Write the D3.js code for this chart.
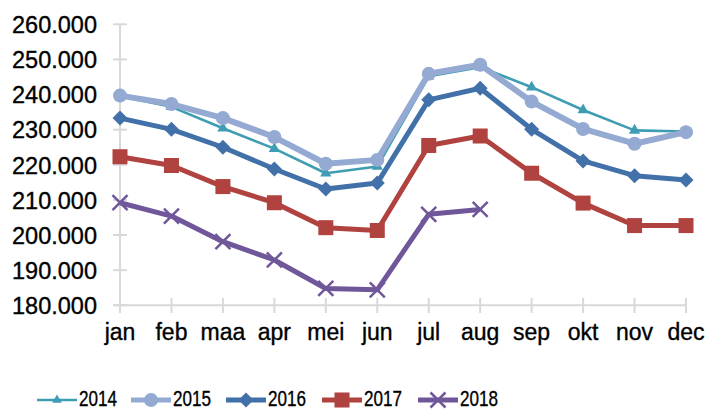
<!DOCTYPE html>
<html><head><meta charset="utf-8">
<script src="https://cdn.jsdelivr.net/npm/d3@7"></script>
<style>body{margin:0;background:#fff}svg{display:block}text{font-family:"Liberation Sans",Arial,sans-serif;fill:#000;stroke:#000;stroke-width:0.35px}</style>
</head><body><svg id="c" width="706" height="410"></svg>
<script>
const months = ["jan","feb","maa","apr","mei","jun","jul","aug","sep","okt","nov","dec"];
const yTicks = [180000,190000,200000,210000,220000,230000,240000,250000,260000];
const seriesNames = ["2014","2015","2016","2017","2018"];
const v2014 = [239500,236500,230400,224600,217600,219500,245200,247800,242100,235600,229800,229500];
const v2015 = [239700,237300,233300,227900,220300,221400,245900,248500,238000,230200,226000,229300];
const v2016 = [233300,230100,225000,218800,213100,214800,238500,241800,230100,221100,216900,215700];
const v2017 = [222300,219800,213800,209200,202100,201300,225500,228200,217600,209100,202700,202700];
const v2018 = [209200,205400,198100,192900,184800,184400,205900,207300];
const colors = ["#3f9db3","#94aad3","#4270a8","#b0433f","#70579a"];
const widths = [2.6,6,5,5,5];
const markers = ["triangle","circle","diamond","square","x"];
const data = [v2014,v2015,v2016,v2017,v2018];

const svg = d3.select("#c");
const x = d3.scalePoint().domain(months).range([120,686]).padding(0);
const y = d3.scaleLinear().domain([180000,260000]).range([305.3,24.3]);
const fmt = v => d3.format(",")(v).replace(/,/g,".");

// axes
const ya = d3.axisLeft(y).tickValues(yTicks).tickSize(0).tickFormat(fmt).tickPadding(22);
const gy = svg.append("g").attr("transform","translate(120,0)").call(ya);
gy.select(".domain").remove();
gy.selectAll("text").style("font-size","23.5px").attr("x",-23).attr("dy","0.35em");
svg.append("line").attr("x1",120).attr("x2",120).attr("y1",y(260000)).attr("y2",y(180000)).attr("stroke","#d9d9d9").attr("stroke-width",2);
svg.selectAll(".yt").data(yTicks).join("line").attr("x1",113).attr("x2",127).attr("y1",d=>y(d)).attr("y2",d=>y(d)).attr("stroke","#d9d9d9").attr("stroke-width",2);

svg.append("line").attr("x1",113).attr("x2",686).attr("y1",y(180000)).attr("y2",y(180000)).attr("stroke","#d9d9d9").attr("stroke-width",2);
svg.selectAll(".xt").data(months).join("line").attr("x1",d=>x(d)).attr("x2",d=>x(d)).attr("y1",298).attr("y2",313).attr("stroke","#d9d9d9").attr("stroke-width",2);
svg.selectAll(".xl").data(months).join("text").attr("x",d=>x(d)).attr("y",339.5).attr("text-anchor","middle").style("font-size","23px").text(d=>d);

function marker(g, type, cx, cy, color, scale){
  const s = scale||1;
  if(type==="triangle"){
    g.append("path").attr("d",d3.symbol(d3.symbolTriangle, 55*s*s)()).attr("transform",`translate(${cx},${cy})`).attr("fill",color);
  } else if(type==="circle"){
    g.append("circle").attr("cx",cx).attr("cy",cy).attr("r",7*s).attr("fill",color);
  } else if(type==="diamond"){
    const r=7.5*s;
    g.append("path").attr("d",`M${cx},${cy-r}L${cx+r},${cy}L${cx},${cy+r}L${cx-r},${cy}Z`).attr("fill",color);
  } else if(type==="square"){
    const r=7.5*s;
    g.append("rect").attr("x",cx-r).attr("y",cy-r).attr("width",2*r).attr("height",2*r).attr("fill",color);
  } else {
    const r=7.5*s;
    g.append("path").attr("d",`M${cx-r},${cy-r}L${cx+r},${cy+r}M${cx-r},${cy+r}L${cx+r},${cy-r}`).attr("stroke",color).attr("stroke-width",2.5).attr("fill","none");
  }
}

data.forEach((vals,i)=>{
  const g = svg.append("g");
  const pts = vals.map((v,j)=>[x(months[j]),y(v)]);
  g.append("path").attr("d",d3.line()(pts)).attr("fill","none").attr("stroke",colors[i]).attr("stroke-width",widths[i]).attr("stroke-linejoin","round");
  pts.forEach(p=>marker(g,markers[i],p[0],p[1],colors[i],1));
});

// legend
const legX = [37,131,226,322,418];
seriesNames.forEach((n,i)=>{
  const g = svg.append("g");
  const x0 = legX[i], ly = 400;
  g.append("line").attr("x1",x0).attr("x2",x0+40).attr("y1",ly).attr("y2",ly).attr("stroke",colors[i]).attr("stroke-width",i===0?2.6:5);
  marker(g,markers[i],x0+20,ly,colors[i],i===0?0.85:1);
  g.append("text").attr("x",x0+42).attr("y",406).style("font-size","22px").attr("textLength",38).attr("lengthAdjust","spacingAndGlyphs").text(n);
});
</script></body></html>
